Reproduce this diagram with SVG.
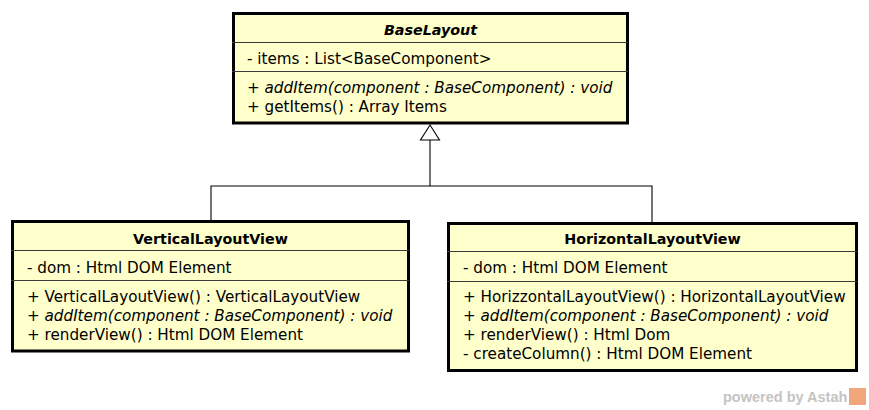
<svg xmlns="http://www.w3.org/2000/svg" width="869" height="410" viewBox="0 0 869 410">
<defs>
<style>
.box{fill:#FFFFCC;stroke:#000;stroke-width:3}
.sep{stroke:#3a3a3a;stroke-width:1.2}
.t{font-family:"DejaVu Sans","Liberation Sans",sans-serif;font-size:15.2px;fill:#000}
.title{font-weight:bold;text-anchor:middle;font-size:14.3px}
.it{font-style:italic}
.conn{fill:none;stroke:#000;stroke-width:1.1}
.wm{font-family:"Liberation Sans",Arial,sans-serif;font-weight:bold;font-size:14.5px;fill:#C4C4C4}
</style>
</defs>
<rect width="869" height="410" fill="#fff"/>
<g id="connectors">
<path class="conn" d="M211,220 V186 H652 V222"/>
<path class="conn" d="M430,186 V140"/>
<polygon points="430,125 420.5,140 439.5,140" fill="#fff" stroke="#000" stroke-width="1.1"/>
</g>
<g id="BaseLayout">
<rect class="box" x="233.5" y="13.5" width="394" height="109.5"/>
<line class="sep" x1="232" y1="42.5" x2="628" y2="42.5"/>
<line class="sep" x1="232" y1="71.5" x2="628" y2="71.5"/>
<text class="t title it" x="430.5" y="35">BaseLayout</text>
<text class="t" x="247" y="63.5">- items : List&lt;BaseComponent&gt;</text>
<text class="t it" x="247" y="93">+ addItem(component : BaseComponent) : void</text>
<text class="t" x="247" y="112">+ getItems() : Array Items</text>
</g>
<g id="VerticalLayoutView">
<rect class="box" x="12.5" y="221.5" width="396" height="129.5"/>
<line class="sep" x1="11" y1="250.5" x2="409" y2="250.5"/>
<line class="sep" x1="11" y1="280.5" x2="409" y2="280.5"/>
<text class="t title" x="210.5" y="243.5">VerticalLayoutView</text>
<text class="t" x="27" y="272.5">- dom : Html DOM Element</text>
<text class="t" x="27" y="302">+ VerticalLayoutView() : VerticalLayoutView</text>
<text class="t it" x="27" y="321">+ addItem(component : BaseComponent) : void</text>
<text class="t" x="27" y="340">+ renderView() : Html DOM Element</text>
</g>
<g id="HorizontalLayoutView">
<rect class="box" x="448.5" y="223.5" width="408" height="147"/>
<line class="sep" x1="447" y1="251.5" x2="857" y2="251.5"/>
<line class="sep" x1="447" y1="281.5" x2="857" y2="281.5"/>
<text class="t title" x="652.5" y="243.5">HorizontalLayoutView</text>
<text class="t" x="463" y="273">- dom : Html DOM Element</text>
<text class="t" x="463" y="302">+ HorizzontalLayoutView() : HorizontalLayoutView</text>
<text class="t it" x="463" y="321">+ addItem(component : BaseComponent) : void</text>
<text class="t" x="463" y="340">+ renderView() : Html Dom</text>
<text class="t" x="463" y="359">- createColumn() : Html DOM Element</text>
</g>
<g id="watermark">
<text class="wm" x="723" y="402">powered by Astah</text>
<rect x="849" y="388" width="17" height="17" fill="#F2A57A"/>
</g>
</svg>
